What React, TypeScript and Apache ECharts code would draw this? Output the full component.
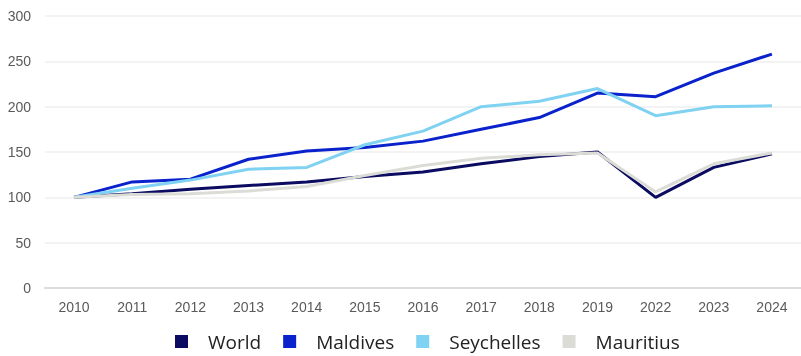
import React, { useEffect, useRef } from "react";
import * as echarts from "echarts";

const years = ["2010", "2011", "2012", "2013", "2014", "2015", "2016", "2017", "2018", "2019", "2022", "2023", "2024"];
const world = [100, 104, 109, 113, 117, 123, 128, 137, 145, 150, 100, 133, 148];
const maldives = [100, 117, 120, 142, 151, 155, 162, 175, 188, 215, 211, 237, 258];
const seychelles = [100, 110, 119, 131, 133, 158, 173, 200, 206, 220, 190, 200, 201];
const mauritius = [100, 103, 104, 107, 112, 124, 135, 143, 147, 149, 106, 137, 149];

const seriesNames = ["World", "Maldives", "Seychelles", "Mauritius"];
const seriesColors = ["#0b0b62", "#0a22cc", "#7fd2f2", "#dcdcd6"];
const seriesData = [world, maldives, seychelles, mauritius];

export default function App() {
  const ref = useRef<HTMLDivElement>(null);
  useEffect(() => {
    if (!ref.current) return;
    const chart = echarts.init(ref.current, undefined, { renderer: "svg" });
    chart.setOption({
      animation: false,
      grid: { left: 45, right: 0, top: 16, bottom: 68 },
      xAxis: {
        type: "category",
        data: years,
        boundaryGap: true,
        axisLine: { lineStyle: { color: "#dcdcdc", width: 2 } },
        axisTick: { show: false },
        axisLabel: { color: "#5a5a5a", fontSize: 14, fontFamily: "Liberation Sans", margin: 12 },
      },
      yAxis: {
        type: "value",
        min: 0,
        max: 300,
        interval: 50,
        axisLine: { show: false },
        axisTick: { show: false },
        axisLabel: { color: "#5a5a5a", fontSize: 14, fontFamily: "Liberation Sans", margin: 14 },
        splitLine: { lineStyle: { color: "#efefef", width: 1.5 } },
      },
      legend: {
        bottom: 0,
        left: 170,
        icon: "rect",
        itemWidth: 13,
        itemHeight: 13,
        itemGap: 22,
        textStyle: { color: "#222", fontSize: 19, fontFamily: "Open Sans", padding: [0, 0, 0, 15] },
        data: seriesNames,
      },
      series: seriesNames.map((name, i) => ({
        name,
        type: "line",
        data: seriesData[i],
        showSymbol: false,
        symbol: "none",
        color: seriesColors[i],
        lineStyle: { width: 3, color: seriesColors[i] },
      })),
    });
    return () => chart.dispose();
  }, []);
  return <div ref={ref} style={{ position: "fixed", left: 0, top: 0, width: 801, height: 356 }} />;
}
